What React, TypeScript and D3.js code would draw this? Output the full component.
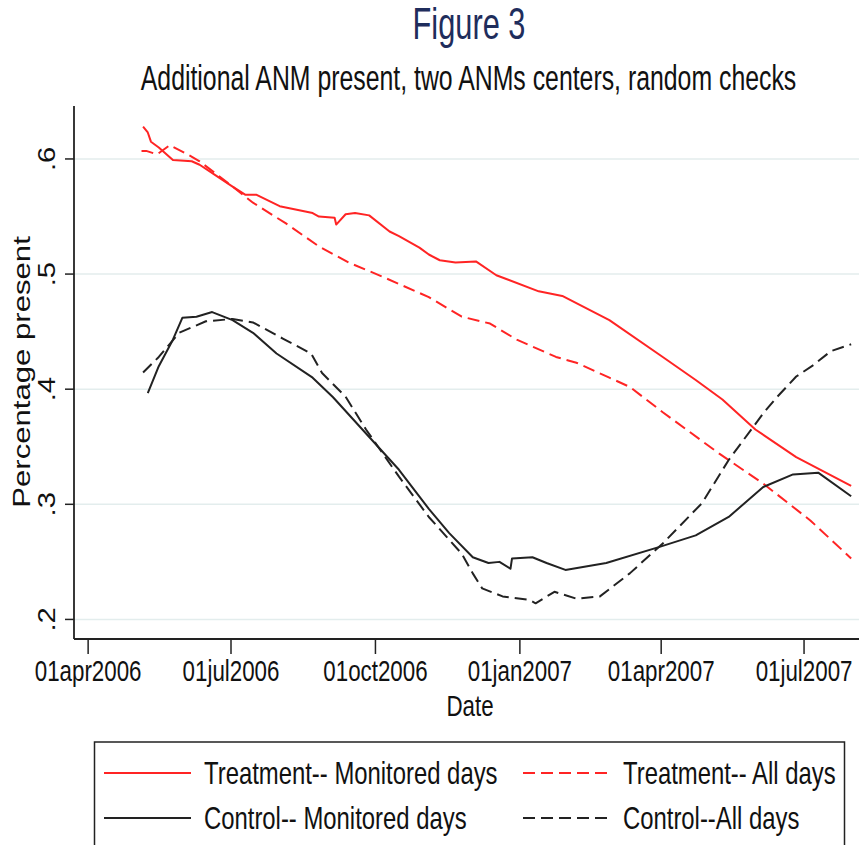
import React from 'react';
import * as d3 from 'd3';

// values
const treatMonDates = ['2006-05-06', '2006-05-09', '2006-05-11', '2006-05-16', '2006-05-25', '2006-06-06', '2006-06-11', '2006-06-21', '2006-07-02', '2006-07-10', '2006-07-17', '2006-08-01', '2006-08-22', '2006-08-26', '2006-09-05', '2006-09-06', '2006-09-12', '2006-09-18', '2006-09-27', '2006-10-10', '2006-10-16', '2006-10-29', '2006-11-04', '2006-11-11', '2006-11-21', '2006-12-04', '2006-12-17', '2007-01-13', '2007-01-28', '2007-02-27', '2007-04-02', '2007-04-23', '2007-05-10', '2007-05-31', '2007-06-26', '2007-07-31'];
const treatMonValues = [0.628, 0.623, 0.615, 0.61, 0.599, 0.598, 0.595, 0.586, 0.576, 0.569, 0.569, 0.559, 0.553, 0.55, 0.549, 0.543, 0.552, 0.553, 0.551, 0.537, 0.533, 0.523, 0.517, 0.512, 0.51, 0.511, 0.499, 0.485, 0.481, 0.46, 0.428, 0.408, 0.391, 0.365, 0.341, 0.316];

const treatAllDates = ['2006-05-05', '2006-05-08', '2006-05-15', '2006-05-23', '2006-06-02', '2006-06-11', '2006-07-02', '2006-07-15', '2006-08-05', '2006-08-26', '2006-09-14', '2006-10-05', '2006-11-04', '2006-11-25', '2006-12-13', '2006-12-30', '2007-01-24', '2007-02-06', '2007-02-27', '2007-03-12', '2007-04-02', '2007-05-08', '2007-06-05', '2007-07-05', '2007-07-31'];
const treatAllValues = [0.607, 0.607, 0.604, 0.612, 0.605, 0.598, 0.576, 0.562, 0.544, 0.524, 0.51, 0.498, 0.48, 0.463, 0.457, 0.443, 0.428, 0.423, 0.41, 0.402, 0.38, 0.344, 0.318, 0.286, 0.253];

const ctrlMonDates = ['2006-05-09', '2006-05-16', '2006-05-25', '2006-05-31', '2006-06-09', '2006-06-19', '2006-07-02', '2006-07-15', '2006-07-30', '2006-08-22', '2006-09-04', '2006-10-16', '2006-11-04', '2006-11-17', '2006-12-02', '2006-12-12', '2006-12-19', '2006-12-26', '2006-12-27', '2007-01-09', '2007-01-18', '2007-01-30', '2007-02-25', '2007-03-31', '2007-04-23', '2007-05-14', '2007-06-05', '2007-06-24', '2007-07-10', '2007-07-31'];
const ctrlMonValues = [0.3965, 0.42, 0.443, 0.462, 0.463, 0.467, 0.46, 0.449, 0.431, 0.41, 0.393, 0.33, 0.296, 0.275, 0.254, 0.249, 0.25, 0.244, 0.253, 0.254, 0.249, 0.243, 0.249, 0.263, 0.273, 0.289, 0.315, 0.326, 0.3275, 0.307];

const ctrlAllDates = ['2006-05-06', '2006-05-16', '2006-05-29', '2006-06-15', '2006-07-02', '2006-07-15', '2006-08-03', '2006-08-21', '2006-08-28', '2006-09-12', '2006-09-25', '2006-10-16', '2006-11-04', '2006-11-25', '2006-12-02', '2006-12-08', '2006-12-21', '2007-01-07', '2007-01-11', '2007-01-23', '2007-02-06', '2007-02-21', '2007-03-12', '2007-04-02', '2007-04-27', '2007-05-14', '2007-06-05', '2007-06-13', '2007-06-26', '2007-07-07', '2007-07-18', '2007-07-31'];
const ctrlAllValues = [0.4145, 0.428, 0.449, 0.459, 0.461, 0.458, 0.444, 0.431, 0.414, 0.3935, 0.365, 0.324, 0.289, 0.257, 0.24, 0.227, 0.22, 0.217, 0.214, 0.224, 0.218, 0.22, 0.24, 0.266, 0.301, 0.3385, 0.379, 0.392, 0.411, 0.421, 0.433, 0.439];

const yTicks = [0.2, 0.3, 0.4, 0.5, 0.6];
const yTickLabels = ['.2', '.3', '.4', '.5', '.6'];
const xTickDates = ['2006-04-01', '2006-07-01', '2006-10-01', '2007-01-01', '2007-04-01', '2007-07-01'];
const xTickLabels = ['01apr2006', '01jul2006', '01oct2006', '01jan2007', '01apr2007', '01jul2007'];

const legendLabels = ['Treatment-- Monitored days', 'Treatment-- All days', 'Control-- Monitored days', 'Control--All days'];

const W = 859;
const H = 845;
const FONT = 'Liberation Sans, Arial, sans-serif';
const RED = '#ff2424';
const BLACK = '#222';
const DASH = '12,6';

const parse = d3.timeParse('%Y-%m-%d');

const x = d3
  .scaleTime()
  .domain([parse('2006-03-23')!, parse('2007-08-05')!])
  .range([74, 859]);
const y = d3.scaleLinear().domain([0.183, 0.646]).range([639, 106]);

const line = d3
  .line<[Date, number]>()
  .x(d => x(d[0]))
  .y(d => y(d[1]));

const zip = (ds: string[], vs: number[]): [Date, number][] => ds.map((d, i) => [parse(d)!, vs[i]]);

const series = [
  { pts: zip(treatMonDates, treatMonValues), color: RED, dash: undefined },
  { pts: zip(treatAllDates, treatAllValues), color: RED, dash: DASH },
  { pts: zip(ctrlMonDates, ctrlMonValues), color: BLACK, dash: undefined },
  { pts: zip(ctrlAllDates, ctrlAllValues), color: BLACK, dash: DASH },
];

const legendItems = [
  { label: legendLabels[0], color: RED, dash: undefined, x0: 104, y0: 773 },
  { label: legendLabels[1], color: RED, dash: DASH, x0: 523, y0: 773 },
  { label: legendLabels[2], color: BLACK, dash: undefined, x0: 104, y0: 818 },
  { label: legendLabels[3], color: BLACK, dash: DASH, x0: 523, y0: 818 },
];

// squeezed text, as in the original figure
const sq = (tx: number, ty: number, sx: number) => `translate(${tx},${ty}) scale(${sx},1)`;

const App = () => {
  const [x0, x1] = x.range();
  const [y0, y1] = y.range();
  return (
    <svg width={W} height={H} style={{ position: 'absolute', left: 0, top: 0, background: '#fff' }} fontFamily={FONT}>
      <rect width={W} height={H} fill="#fff" />

      <text transform={sq(469, 39, 0.7)} textAnchor="middle" fontSize={44} fill="#1f2d5c">
        Figure 3
      </text>
      <text transform={sq(468.5, 90, 0.72)} textAnchor="middle" fontSize={34.5} fill="#111">
        Additional ANM present, two ANMs centers, random checks
      </text>

      {/* grid */}
      {yTicks.map(t => (
        <line key={'g' + t} x1={x0} x2={x1} y1={y(t)} y2={y(t)} stroke="#e3eded" strokeWidth={1.5} />
      ))}

      {/* axes */}
      <line x1={x0} x2={x0} y1={y1} y2={y0} stroke={BLACK} strokeWidth={1.8} />
      <line x1={x0} x2={x1} y1={y0} y2={y0} stroke={BLACK} strokeWidth={1.8} />

      {yTicks.map((t, i) => (
        <g key={'y' + t}>
          <line x1={x0 - 9} x2={x0} y1={y(t)} y2={y(t)} stroke={BLACK} strokeWidth={1.5} />
          <text
            transform={`translate(55,${y(t)}) rotate(-90) scale(1.27,1)`}
            textAnchor="middle"
            fontSize={23}
            fill="#111"
          >
            {yTickLabels[i]}
          </text>
        </g>
      ))}
      <text
        transform="translate(30,372) rotate(-90) scale(1.27,1)"
        textAnchor="middle"
        fontSize={24.5}
        fill="#111"
      >
        Percentage present
      </text>

      {xTickDates.map((d, i) => {
        const px = x(parse(d)!);
        return (
          <g key={d}>
            <line x1={px} x2={px} y1={y0} y2={y0 + 15} stroke={BLACK} strokeWidth={1.5} />
            <text transform={sq(px, 681, 0.77)} textAnchor="middle" fontSize={29} fill="#111">
              {xTickLabels[i]}
            </text>
          </g>
        );
      })}
      <text transform={sq(470, 716, 0.77)} textAnchor="middle" fontSize={29} fill="#111">
        Date
      </text>

      {/* lines */}
      {series.map((s, i) => (
        <path
          key={i}
          d={line(s.pts) || ''}
          fill="none"
          stroke={s.color}
          strokeWidth={2}
          strokeDasharray={s.dash}
          strokeLinejoin="round"
        />
      ))}

      {/* legend */}
      <rect x={94.5} y={742} width={750} height={140} fill="none" stroke={BLACK} strokeWidth={1.5} />
      {legendItems.map(l => (
        <g key={l.label}>
          <line x1={l.x0} x2={l.x0 + 87} y1={l.y0} y2={l.y0} stroke={l.color} strokeWidth={2} strokeDasharray={l.dash} />
          <text transform={sq(l.x0 + 100, l.y0 + 11, 0.77)} fontSize={31} fill="#111">
            {l.label}
          </text>
        </g>
      ))}
    </svg>
  );
};

export default App;
